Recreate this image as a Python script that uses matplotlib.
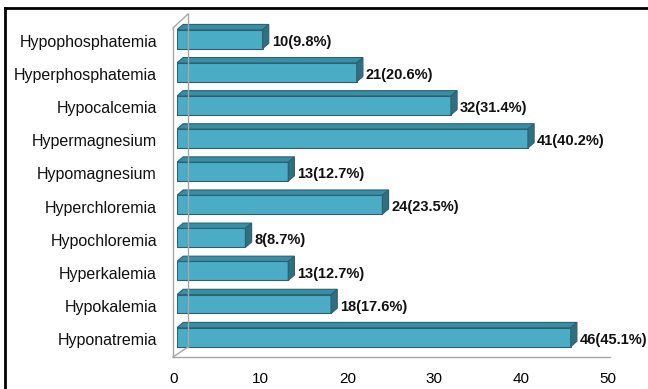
import matplotlib
matplotlib.use("Agg")
import matplotlib.pyplot as plt
from matplotlib.patches import Polygon
from matplotlib.lines import Line2D
from matplotlib.transforms import ScaledTranslation

plt.rcParams['font.family'] = ['Liberation Sans', 'DejaVu Sans']

categories = ["Hyponatremia", "Hypokalemia", "Hyperkalemia", "Hypochloremia",
              "Hyperchloremia", "Hypomagnesium", "Hypermagnesium", "Hypocalcemia",
              "Hyperphosphatemia", "Hypophosphatemia"]
counts = [46, 18, 13, 8, 24, 13, 41, 32, 21, 10]
percents = [45.1, 17.6, 12.7, 8.7, 23.5, 12.7, 40.2, 31.4, 20.6, 9.8]
xticks = [0, 10, 20, 30, 40, 50]

W, H = 648, 389
fig = plt.figure(figsize=(W / 100, H / 100), dpi=100)

# axes in pixel geometry
ax_l, ax_r, ax_t, ax_b = 177, 605, 14, 357
ax = fig.add_axes([ax_l / W, 1 - ax_b / H, (ax_r - ax_l) / W, (ax_b - ax_t) / H])
ax.set_xlim(0, 50)
ax.set_ylim(-0.6, 9.76)
for s in ax.spines.values():
    s.set_visible(False)

front = "#4BACC6"
top_c = "#3A8DA3"
side_c = "#2E7082"
edge = "#2A6272"

bar_h = 0.57
dx = 0.72   # depth in x units
dy = 0.16   # depth in y units

y = list(range(len(categories)))
ax.barh(y, counts, height=bar_h, color=front, edgecolor=edge, linewidth=0.8, zorder=3)
for yi, v, p in zip(y, counts, percents):
    yt = yi + bar_h / 2
    yb = yi - bar_h / 2
    ax.add_patch(Polygon([(0, yt), (v, yt), (v + dx, yt + dy), (dx, yt + dy)],
                         closed=True, facecolor=top_c, edgecolor=edge, linewidth=0.8, zorder=3))
    ax.add_patch(Polygon([(v, yb), (v, yt), (v + dx, yt + dy), (v + dx, yb + dy)],
                         closed=True, facecolor=side_c, edgecolor=edge, linewidth=0.8, zorder=3))
    ax.text(v + dx + 0.35, yi - 0.08, f"{v}({p}%)", ha="left", va="center",
            fontsize=10.5, fontweight="bold", color="#111111", zorder=4)

# category labels (slightly below bar centres, as in the reference)
ax.set_yticks(y)
ax.set_yticklabels([])
ytrans = ax.get_yaxis_transform()
for yi, c in zip(y, categories):
    ax.text(-20 / (ax_r - ax_l), yi - 0.1, c, transform=ytrans, ha="right", va="center",
            fontsize=11.5, color="#111111", clip_on=False)

# x tick labels, projected slightly wider than the bar plane (as in the 3D reference)
ax.set_xticks(xticks)
ax.set_xticklabels([str(t) for t in xticks], fontsize=11)
ax.tick_params(axis="both", length=0)
ax.tick_params(axis="x", pad=11)
for t, lab in zip(xticks, ax.get_xticklabels()):
    shift_px = -3 + 6 * t / 50.0
    lab.set_transform(lab.get_transform() + ScaledTranslation(shift_px / 100, 0, fig.dpi_scale_trans))

# wall / floor lines in figure pixel coordinates
def fx(px):
    return px / W

def fy(py):
    return 1 - py / H

gray = "#A6A6A6"
lines = [
    ((173, 173), (357, 28)),   # front left vertical
    ((173, 188), (28, 14)),    # top diagonal
    ((188, 188), (14, 347)),   # back vertical
    ((173, 188), (357, 347)),  # floor diagonal
    ((173, 610), (357, 357)),  # floor front
]
for xs, ys in lines:
    fig.add_artist(Line2D([fx(xs[0]), fx(xs[1])], [fy(ys[0]), fy(ys[1])],
                          color=gray, linewidth=1.0, zorder=1))

# outer border
fig.add_artist(Line2D([fx(5), fx(5)], [fy(8), fy(389)], color="black", linewidth=2))
fig.add_artist(Line2D([fx(5), fx(648)], [fy(8), fy(8)], color="black", linewidth=2))

fig.savefig("out.png", dpi=100, facecolor="white")
